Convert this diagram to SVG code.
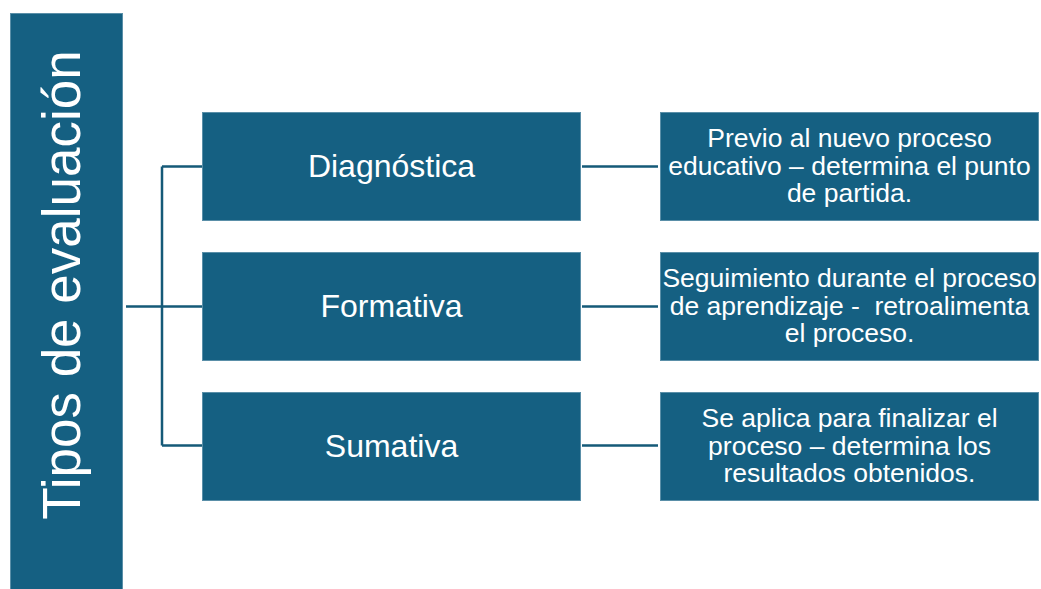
<svg xmlns="http://www.w3.org/2000/svg" width="1041" height="589" viewBox="0 0 1041 589">
<style>
.box{fill:#156082;stroke:#5a8fa8;stroke-width:1}
.lbl{font-family:"Liberation Sans",Arial,sans-serif;fill:#ffffff;text-anchor:middle}
.big{font-size:32px}
.sm{font-size:26.5px}
.con{stroke:#155a78;stroke-width:2.5;fill:none}
</style>
<rect width="1041" height="589" fill="#ffffff"/>
<g id="title">
<rect class="box" x="10.5" y="13.5" width="112" height="580"/>
<text class="lbl" font-size="53" transform="translate(80,285) rotate(-90)">Tipos de evaluación</text>
</g>
<g id="connectors">
<path class="con" d="M126,306.5H202M162,166.5V445.5M162,166.5H202M162,445.5H202"/>
<path class="con" d="M582,166.5H658M582,306.5H658M582,445.5H658"/>
</g>
<g id="diagnostica">
<rect class="box" x="202.5" y="112.5" width="378" height="108"/>
<text class="lbl big" x="391.5" y="177">Diagnóstica</text>
</g>
<g id="formativa">
<rect class="box" x="202.5" y="252.5" width="378" height="108"/>
<text class="lbl big" x="391.5" y="317">Formativa</text>
</g>
<g id="sumativa">
<rect class="box" x="202.5" y="392.5" width="378" height="108"/>
<text class="lbl big" x="391.5" y="457">Sumativa</text>
</g>
<g id="desc1">
<rect class="box" x="660.5" y="112.5" width="378" height="108"/>
<text class="lbl sm" x="849.5"><tspan x="849.5" y="147">Previo al nuevo proceso</tspan><tspan x="849.5" y="174.5">educativo – determina el punto</tspan><tspan x="849.5" y="202">de partida.</tspan></text>
</g>
<g id="desc2">
<rect class="box" x="660.5" y="252.5" width="378" height="108"/>
<text class="lbl sm" x="849.5" xml:space="preserve"><tspan x="849.5" y="287">Seguimiento durante el proceso</tspan><tspan x="849.5" y="314.5">de aprendizaje -  retroalimenta</tspan><tspan x="849.5" y="342">el proceso.</tspan></text>
</g>
<g id="desc3">
<rect class="box" x="660.5" y="392.5" width="378" height="108"/>
<text class="lbl sm" x="849.5"><tspan x="849.5" y="427">Se aplica para finalizar el</tspan><tspan x="849.5" y="454.5">proceso – determina los</tspan><tspan x="849.5" y="482">resultados obtenidos.</tspan></text>
</g>
</svg>
